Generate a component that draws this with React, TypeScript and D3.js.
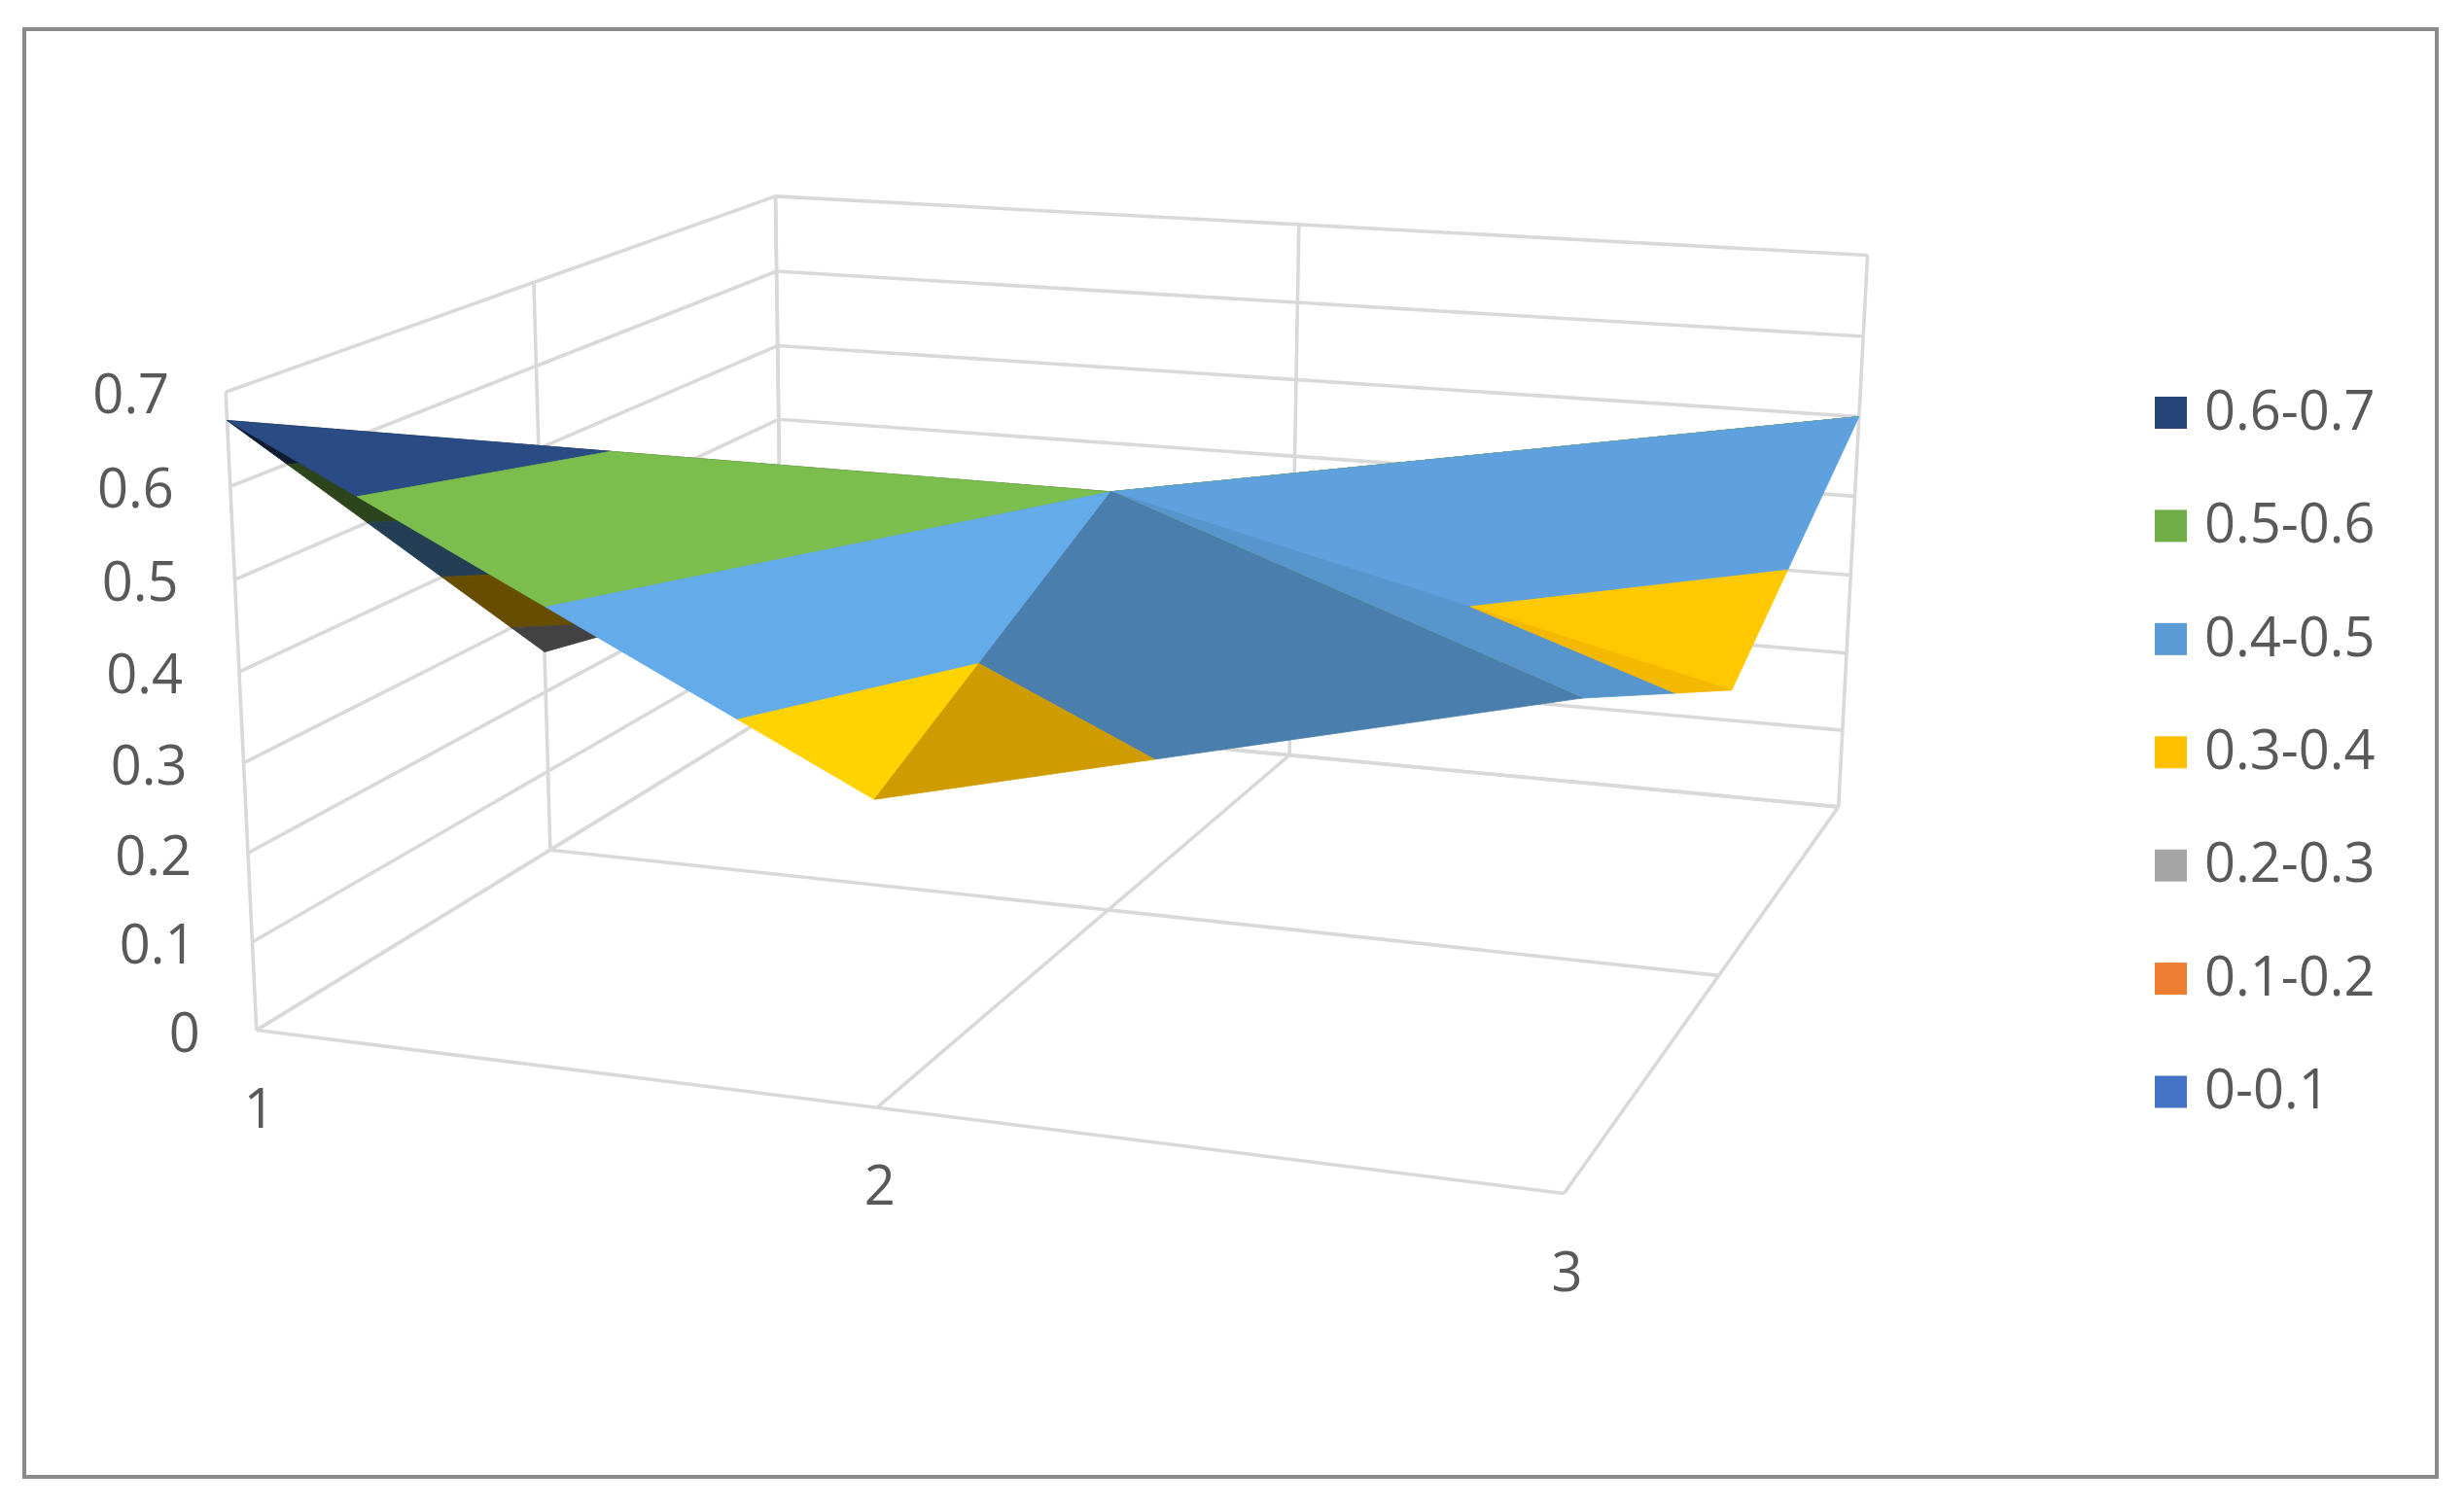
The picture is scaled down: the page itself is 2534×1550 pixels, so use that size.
import React, { useEffect, useRef } from 'react';
import * as d3 from 'd3';

const width = 2534;
const height = 1550;

const categories = ['1', '2', '3'];
const seriesNames = ['S1', 'S2', 'S3'];
// one row per series (front to back), one value per category
const series1 = [0.67, 0.33, 0.5];
const series2 = [0.25, 0.5, 0.33];
const series3 = [0.3, 0.3, 0.5];
const surface = [series1, series2, series3];

const valueTicks = [0, 0.1, 0.2, 0.3, 0.4, 0.5, 0.6, 0.7];
const bandLabels = ['0.6-0.7', '0.5-0.6', '0.4-0.5', '0.3-0.4', '0.2-0.3', '0.1-0.2', '0-0.1'];
const bandLow = [0.6, 0.5, 0.4, 0.3, 0.2, 0.1, 0];
const bandColors = ['#264478', '#70ad47', '#5b9bd5', '#ffc000', '#a5a5a5', '#ed7d31', '#4472c4'];

// triangles of the mesh as [category, series] index pairs, painted back to front
const facets = [
  { v: [[0, 1], [0, 2], [1, 1]], shade: 0.8 },
  { v: [[0, 2], [1, 2], [1, 1]], shade: 0.8 },
  { v: [[1, 1], [1, 2], [2, 2]], shade: 0.8 },
  { v: [[0, 0], [0, 1], [1, 1]], shade: 0.4 },
  { v: [[0, 0], [1, 0], [1, 1]], shade: 1.1 },
  { v: [[1, 1], [2, 1], [2, 2]], shade: 1.04 },
  { v: [[1, 1], [2, 0], [2, 1]], shade: 0.96 },
  { v: [[1, 0], [2, 0], [1, 1]], shade: 0.81 },
];

// camera calibration: box position [x, y, z] -> picture pixel
const calibration: [number[], number[]][] = [
  [[0, 0, 0], [263, 1059]],
  [[0, 1, 0], [231, 403]],
  [[0.5, 0, 0], [904, 1140]],
  [[1, 0, 0], [1611, 1230]],
  [[0, 0, 0.5], [566, 873]],
  [[0, 1, 0.5], [551, 291]],
  [[0, 0, 1], [804, 729]],
  [[0, 1, 1], [797, 202]],
  [[0.5, 0, 1], [1328, 777]],
  [[0.5, 1, 1], [1335, 231]],
  [[1, 0, 1], [1893, 830]],
  [[1, 1, 1], [1921, 262]],
  [[1, 0, 0.5], [1761, 1002]],
  [[0.5, 0, 0.5], [1139, 934]],
];

// least squares fit of the 3x4 projection matrix
function solveCamera() {
  const rows: number[][] = [];
  const rhs: number[] = [];
  calibration.forEach(([[X, Y, Z], [px, py]]) => {
    const u = px / 1000;
    const v = py / 1000;
    rows.push([X, Y, Z, 1, 0, 0, 0, 0, -u * X, -u * Y, -u * Z]);
    rhs.push(u);
    rows.push([0, 0, 0, 0, X, Y, Z, 1, -v * X, -v * Y, -v * Z]);
    rhs.push(v);
  });
  const n = 11;
  const A = d3.range(n).map((i) => {
    const row = d3.range(n).map((j) => d3.sum(rows, (r) => r[i] * r[j]));
    row.push(d3.sum(rows, (r, k) => r[i] * rhs[k]));
    return row;
  });
  for (let c = 0; c < n; c++) {
    let best = c;
    for (let r = c + 1; r < n; r++) if (Math.abs(A[r][c]) > Math.abs(A[best][c])) best = r;
    [A[c], A[best]] = [A[best], A[c]];
    for (let r = 0; r < n; r++) {
      if (r === c) continue;
      const f = A[r][c] / A[c][c];
      for (let k = c; k <= n; k++) A[r][k] -= f * A[c][k];
    }
  }
  return A.map((row, i) => row[n] / row[i]);
}

const cam = solveCamera();
const project = (X: number, Y: number, Z: number): [number, number] => {
  const w = cam[8] * X + cam[9] * Y + cam[10] * Z + 1;
  return [
    (1000 * (cam[0] * X + cam[1] * Y + cam[2] * Z + cam[3])) / w,
    (1000 * (cam[4] * X + cam[5] * Y + cam[6] * Z + cam[7])) / w,
  ];
};

const xScale = d3.scalePoint<string>().domain(categories).range([0, 1]);
const zScale = d3.scalePoint<string>().domain(seriesNames).range([0, 1]);
const yScale = d3.scaleLinear().domain([0, 0.7]).range([0, 1]);
const legendY = d3.scalePoint<string>().domain(bandLabels).range([424.5, 1123]);

type Vert = { x: number; z: number; val: number };

// keep the part of a polygon on one side of a value level
function clipPoly(poly: Vert[], level: number, keepAbove: boolean) {
  const inside = (p: Vert) => (keepAbove ? p.val >= level : p.val <= level);
  const out: Vert[] = [];
  poly.forEach((a, i) => {
    const b = poly[(i + 1) % poly.length];
    if (inside(a)) out.push(a);
    if (inside(a) !== inside(b)) {
      const t = (level - a.val) / (b.val - a.val);
      out.push({ x: a.x + t * (b.x - a.x), z: a.z + t * (b.z - a.z), val: level });
    }
  });
  return out;
}

export default function App() {
  const ref = useRef<SVGSVGElement>(null);

  useEffect(() => {
    const svg = d3.select(ref.current);
    svg.selectAll('*').remove();

    svg.append('rect')
      .attr('x', 25).attr('y', 30)
      .attr('width', 2481).attr('height', 1489)
      .attr('fill', '#ffffff')
      .attr('stroke', '#8a8a8a')
      .attr('stroke-width', 4);

    const line = d3.line<[number, number, number]>()
      .x((d) => project(d[0], d[1], d[2])[0])
      .y((d) => project(d[0], d[1], d[2])[1]);

    // walls and floor
    const grid: [number, number, number][][] = [];
    valueTicks.forEach((t) => {
      const y = yScale(t);
      grid.push([[0, y, 0], [0, y, 1], [1, y, 1]]);
    });
    zScale.domain().forEach((s) => {
      const z = zScale(s)!;
      grid.push([[0, 0, z], [0, 1, z]]);
      grid.push([[0, 0, z], [1, 0, z]]);
    });
    xScale.domain().forEach((c) => {
      const x = xScale(c)!;
      grid.push([[x, 0, 0], [x, 0, 1]]);
      grid.push([[x, 0, 1], [x, 1, 1]]);
    });
    svg.append('g').selectAll('path').data(grid).enter().append('path')
      .attr('d', (d) => line(d))
      .attr('fill', 'none')
      .attr('stroke', '#d9d9d9')
      .attr('stroke-width', 3.6);

    // surface, each triangle cut into value bands
    const gSurface = svg.append('g');
    facets.forEach((f) => {
      const tri: Vert[] = f.v.map(([c, s]) => ({
        x: xScale(categories[c])!,
        z: zScale(seriesNames[s])!,
        val: surface[s][c],
      }));
      bandLow.forEach((lo, i) => {
        let poly = clipPoly(tri, lo, true);
        if (poly.length) poly = clipPoly(poly, lo + 0.1, false);
        if (poly.length < 3) return;
        const base = d3.rgb(bandColors[i]);
        const fill = d3.rgb(base.r * f.shade, base.g * f.shade, base.b * f.shade).formatHex();
        const pts = poly.map((p) => [p.x, yScale(p.val), p.z] as [number, number, number]);
        gSurface.append('path')
          .attr('d', line(pts) + 'Z')
          .attr('fill', fill)
          .attr('stroke', fill)
          .attr('stroke-width', 0.8);
      });
    });

    const font = '"Open Sans", sans-serif';

    // value axis labels
    svg.append('g').selectAll('text').data(valueTicks).enter().append('text')
      .text((d) => String(d))
      .attr('x', (d) => project(0, yScale(d), 0)[0] - 58)
      .attr('y', (d) => project(0, yScale(d), 0)[1] + 2)
      .attr('dy', '0.36em')
      .attr('text-anchor', 'end')
      .attr('font-family', font)
      .attr('font-size', 56)
      .attr('fill', '#595959');

    // category labels
    svg.append('g').selectAll('text').data(categories).enter().append('text')
      .text((d) => d)
      .attr('x', (d) => project(xScale(d)!, 0, 0)[0] + 3)
      .attr('y', (d) => project(xScale(d)!, 0, 0)[1] + 80)
      .attr('dy', '0.36em')
      .attr('text-anchor', 'middle')
      .attr('font-family', font)
      .attr('font-size', 56)
      .attr('fill', '#595959');

    // legend
    const legend = svg.append('g').selectAll('g').data(bandLabels).enter().append('g')
      .attr('transform', (d) => 'translate(2216,' + legendY(d) + ')');
    legend.append('rect')
      .attr('x', 0).attr('y', -16.5)
      .attr('width', 33).attr('height', 33)
      .attr('fill', (d, i) => bandColors[i]);
    legend.append('text')
      .text((d) => d)
      .attr('x', 51)
      .attr('y', -3)
      .attr('dy', '0.36em')
      .attr('font-family', font)
      .attr('font-size', 56)
      .attr('fill', '#595959');
  }, []);

  return (
    <svg
      ref={ref}
      width={width}
      height={height}
      style={{ position: 'absolute', left: 0, top: 0, background: '#fff' }}
    />
  );
}
